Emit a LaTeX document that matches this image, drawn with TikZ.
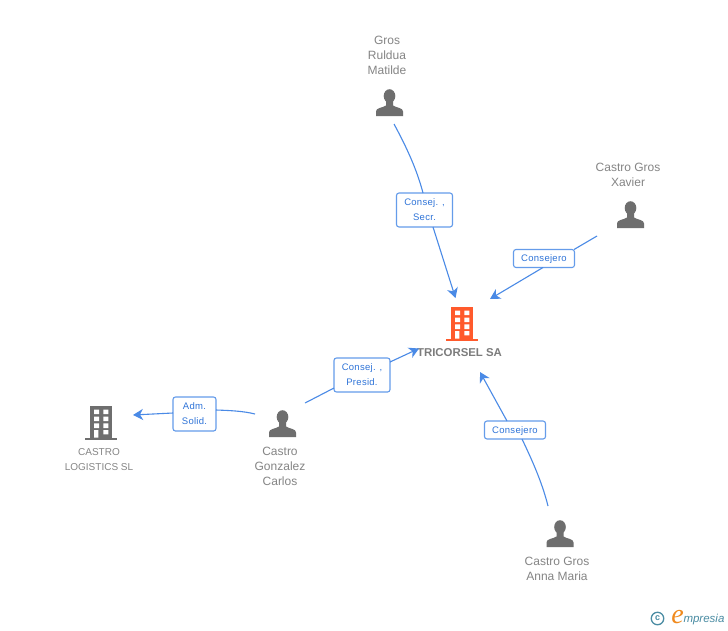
\documentclass[tikz,border=0pt]{standalone}
\usepackage{fontspec}
\setmainfont{Liberation Sans}
\newfontfamily\logoserif{Liberation Serif}
\usetikzlibrary{arrows.meta,calc}
\definecolor{txtgrey}{HTML}{858585}
\definecolor{boldgrey}{HTML}{7C7C7C}
\definecolor{icongrey}{HTML}{6E6E6E}
\definecolor{iconorange}{HTML}{FF5A2C}
\definecolor{linkblue}{HTML}{4A8AE6}
\definecolor{labelblue}{HTML}{2F74D8}
\definecolor{logoteal}{HTML}{4A8CA3}
\definecolor{logoorange}{HTML}{F08A1E}
\tikzset{
  x=1pt,y=-1pt,
  every node/.style={inner sep=0pt,outer sep=0pt},
  anchorpt/.style={minimum size=28pt,shape=rectangle},
  nametext/.style={align=center,text=txtgrey,font=\fontsize{12}{15}\selectfont},
  smallname/.style={align=center,text=txtgrey,font=\fontsize{10}{15}\selectfont},
  boldname/.style={align=center,text=boldgrey,font=\fontsize{11.4}{15}\selectfont\bfseries},
  linkbox/.style={draw=linkblue!85!white,line width=1.1pt,rounded corners=2.5pt,fill=white,
    align=center,text=labelblue,text depth=0pt,font=\fontsize{9.5}{15}\selectfont\addfontfeature{LetterSpace=3},anchor=center},
  link/.style={draw=linkblue,line width=1.1pt},
  linkarrow/.style={link,-{Stealth[length=10pt,width=11pt,inset=3pt]}},
  person/.pic={
    \fill[icongrey] (0,-7) ellipse (5.8 and 6.8);
    \fill[icongrey] (-13.5,13) -- (-13.5,8.5) .. controls (-13.5,4.5) and (-7,5) .. (-3.5,2.5)
      -- (-3.5,-3) -- (3.5,-3) -- (3.5,2.5) .. controls (7,5) and (13.5,4.5) .. (13.5,8.5) -- (13.5,13) -- cycle;
  },
  building/.pic={
    \fill[pic actions] (-11,0) rectangle (11.3,31.5);
    \fill[pic actions] (-16,31.5) rectangle (16,34);
    \fill[white] (-7,3.7) rectangle (-2,8) (2.3,3.7) rectangle (7.3,8)
      (-7,10.7) rectangle (-2,15) (2.3,10.7) rectangle (7.3,15)
      (-7,17.3) rectangle (-2,22) (2.3,17.3) rectangle (7.3,22)
      (-7,24) rectangle (-2.6,31.5) (2.3,24) rectangle (7.3,28.3);
  }
}
\begin{document}
\begin{tikzpicture}
\useasboundingbox[fill=white] (0,0) rectangle (728,630);

% icon holders
\node[anchorpt] (matilde) at (389.5,103) {};
\node[anchorpt] (xavier) at (630.5,215) {};
\node[anchorpt] (carlos) at (282.5,424) {};
\node[anchorpt] (anna) at (560,534) {};
\node[anchorpt] (tricorsel) at (462,324) {};
\node[anchorpt] (logistics) at (101,423) {};

\pic at (matilde) {person};
\pic at (xavier) {person};
\pic at (carlos) {person};
\pic at (anna) {person};
\pic[fill=iconorange] at (462,307) {building};
\pic[fill=icongrey] at (101,406) {building};

% names
\node[nametext] (nmatilde) at (387,55) {Gros\\Ruldua\\Matilde};
\node[nametext] (nxavier) at (628,174.5) {Castro Gros\\Xavier};
\node[nametext] (ncarlos) at (280,466) {Castro\\Gonzalez\\Carlos};
\node[nametext] (nanna) at (557,568.5) {Castro Gros\\Anna Maria};
\node[smallname] (nlogistics) at (99,459.5) {CASTRO\\LOGISTICS SL};
\node[boldname] (ntricorsel) at (459.5,352.5) {TRICORSEL SA};

% label boxes
\node[linkbox,minimum width=56pt,minimum height=34pt] (lsecr) at (424.5,210) {Consej. ,\\Secr.};
\node[linkbox,minimum width=61pt,minimum height=18pt] (lxav) at (544,258.5) {Consejero};
\node[linkbox,minimum width=56pt,minimum height=34pt] (lpres) at (362,375) {Consej. ,\\Presid.};
\node[linkbox,minimum width=61pt,minimum height=18pt] (lanna) at (515,430) {Consejero};
\node[linkbox,minimum width=43pt,minimum height=34pt] (ladm) at (194.5,414) {Adm.\\Solid.};

% connector free ends
\coordinate (s1) at (394,124); \coordinate (e1) at (455.5,298);
\coordinate (s2) at (597,236); \coordinate (e2) at (490,299);
\coordinate (s3) at (305,403); \coordinate (e3) at (419,348.5);
\coordinate (s4) at (548,506); \coordinate (e4) at (480,372);
\coordinate (s5) at (255,414); \coordinate (e5) at (133,415);

% connectors
\draw[link] (s1) .. controls (407,148) and (417,170) .. (lsecr.north -| 423,0);
\draw[linkarrow] (lsecr.south -| 433,0) -- (e1);
\draw[link] (s2) -- (lxav.north -| 574,0);
\draw[linkarrow] (lxav.south -| 543,0) -- (e2);
\draw[link] (s3) -- (lpres.west |- 0,388);
\draw[linkarrow] (lpres.east |- 0,362) -- (e3);
\draw[link] (s4) .. controls (542,482) and (532,460) .. (lanna.south -| 522,0);
\draw[linkarrow] (lanna.north -| 507,0) -- (e4);
\draw[link] (s5) .. controls (243,411) and (230,410.5) .. (ladm.east |- 0,410);
\draw[linkarrow] (ladm.west |- 0,413) -- (e5);

% logo
\node[draw=logoteal,line width=1.3pt,circle,minimum size=12.5pt,text=logoteal,font=\fontsize{9}{9}\selectfont\bfseries] (copyr) at (657.5,618.5) {c};
\node[text=logoorange,font=\fontsize{28}{28}\selectfont\logoserif\itshape,anchor=base] (logoe) at (677.5,623) {e};
\node[text=logoteal,font=\fontsize{11.5}{12}\selectfont\itshape,anchor=base west] (logot) at (683.5,622.5) {mpresia};
\end{tikzpicture}
\end{document}
